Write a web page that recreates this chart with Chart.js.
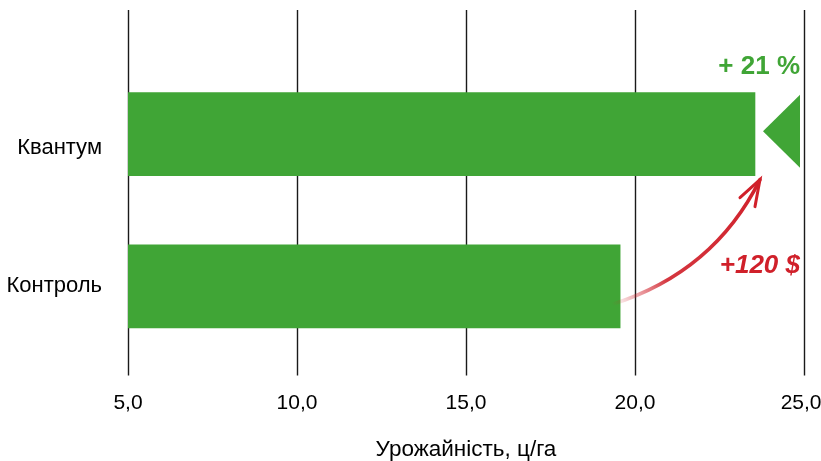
<!DOCTYPE html>
<html>
<head>
<meta charset="utf-8">
<script src="https://cdn.jsdelivr.net/npm/chart.js@4.4.1/dist/chart.umd.min.js"></script>
<style>
  html, body { margin: 0; padding: 0; background: #fff; }
  #wrap { width: 821px; height: 461px; }
</style>
</head>
<body>
<div id="wrap"><canvas id="yieldChart"></canvas></div>
<script>
// Урожайність, ц/га
const categories = ['Квантум', 'Контроль'];
const yieldValues = [23.55, 19.56];
const xTicks = [5, 10, 15, 20, 25];
const gainLabel = '+ 21 %';
const profitLabel = '+120 $';

const GREEN = '#40a536';
const RED = '#d0202a';

// vertical grid lines, drawn behind the bars
const gridLines = {
    id: 'gridLines',
    beforeDatasetsDraw(chart) {
        const { ctx, scales: { x }, chartArea } = chart;
        ctx.save();
        ctx.strokeStyle = '#1a1a1a';
        ctx.lineWidth = 1.4;
        xTicks.forEach(v => {
            const px = Math.round(x.getPixelForValue(v)) + 0.5;
            ctx.beginPath();
            ctx.moveTo(px, 10);
            ctx.lineTo(px, chartArea.bottom + 13);
            ctx.stroke();
        });
        ctx.restore();
    }
};

// triangle, percent label, red arrow
const annotations = {
    id: 'annotations',
    afterDatasetsDraw(chart) {
        const { ctx, scales: { x } } = chart;
        const bars = chart.getDatasetMeta(0).data;
        const top = bars[0], low = bars[1];
        const right = x.getPixelForValue(x.max);
        ctx.save();

        // triangle pointing at the Квантум bar
        ctx.fillStyle = GREEN;
        ctx.beginPath();
        ctx.moveTo(top.x + 8, top.y - 3);
        ctx.lineTo(right - 4, top.y - 39.5);
        ctx.lineTo(right - 4, top.y + 33.5);
        ctx.closePath();
        ctx.fill();

        ctx.font = 'bold 26px "Liberation Sans", Arial, sans-serif';
        ctx.textAlign = 'right';
        ctx.textBaseline = 'alphabetic';
        ctx.fillText(gainLabel, right - 4, top.y - top.height / 2 - 19);

        // curved arrow from Контроль to Квантум
        const sx = low.x - 8, sy = low.y + 18;
        const ex = top.x + 5, ey = top.y + top.height / 2 + 4;
        const cx = sx + 0.69 * (ex - sx), cy = sy + 0.26 * (ey - sy);
        const grad = ctx.createLinearGradient(sx, sy, ex, ey);
        grad.addColorStop(0, 'rgba(208,32,42,0)');
        grad.addColorStop(0.3, 'rgba(208,32,42,0.9)');
        grad.addColorStop(1, RED);
        ctx.strokeStyle = grad;
        ctx.lineWidth = 3.5;
        ctx.lineCap = 'round';
        ctx.beginPath();
        ctx.moveTo(sx, sy);
        ctx.quadraticCurveTo(cx, cy, ex, ey);
        ctx.stroke();

        ctx.strokeStyle = RED;
        ctx.lineWidth = 3;
        ctx.beginPath();
        ctx.moveTo(ex - 20, ey + 18);
        ctx.lineTo(ex, ey);
        ctx.lineTo(ex - 5, ey + 27);
        ctx.stroke();

        ctx.fillStyle = RED;
        ctx.font = 'italic bold 26px "Liberation Sans", Arial, sans-serif';
        ctx.fillText(profitLabel, right - 4, low.y - 13.5);
        ctx.restore();
    }
};

const ctx = document.getElementById('yieldChart').getContext('2d');
new Chart(ctx, {
    type: 'bar',
    data: {
        labels: categories,
        datasets: [{
            data: yieldValues,
            backgroundColor: GREEN,
            borderWidth: 0,
            barThickness: 83,
            base: 5
        }]
    },
    options: {
        indexAxis: 'y',
        responsive: true,
        maintainAspectRatio: false,
        animation: false,
        layout: { padding: { top: 58, left: 0, right: 0, bottom: 0 } },
        plugins: {
            legend: { display: false },
            tooltip: { enabled: false }
        },
        scales: {
            x: {
                min: 5,
                max: 25,
                afterBuildTicks: scale => {
                    scale.ticks = xTicks.map(v => ({ value: v }));
                },
                afterFit: scale => {
                    scale.height = 98.5;
                    scale.paddingRight = 17;
                },
                grid: { display: false, drawTicks: false },
                border: { display: false },
                ticks: {
                    padding: 28,
                    color: '#000',
                    font: { family: '"Liberation Sans", Arial, sans-serif', size: 21 },
                    maxRotation: 0,
                    // last label is pulled in a little so it stays inside the page
                    callback: (v, i) => v.toFixed(1).replace('.', ',') + (i === xTicks.length - 1 ? ' ' : '')
                },
                title: {
                    display: true,
                    text: 'Урожайність, ц/га',
                    color: '#000',
                    font: { family: '"Liberation Sans", Arial, sans-serif', size: 22.5 },
                    padding: { top: 0, bottom: -2 }
                }
            },
            y: {
                afterFit: scale => { scale.width = 128; },
                grid: { display: false, drawTicks: false },
                border: { display: false },
                ticks: {
                    padding: 26,
                    color: '#000',
                    font: { family: '"Liberation Sans", Arial, sans-serif', size: 22, lineHeight: 1.3 },
                    // the upper label sits a little below its bar in the original
                    callback: (v, i) => i === 0 ? ['', categories[i]] : categories[i]
                }
            }
        }
    },
    plugins: [gridLines, annotations]
});
</script>
</body>
</html>
